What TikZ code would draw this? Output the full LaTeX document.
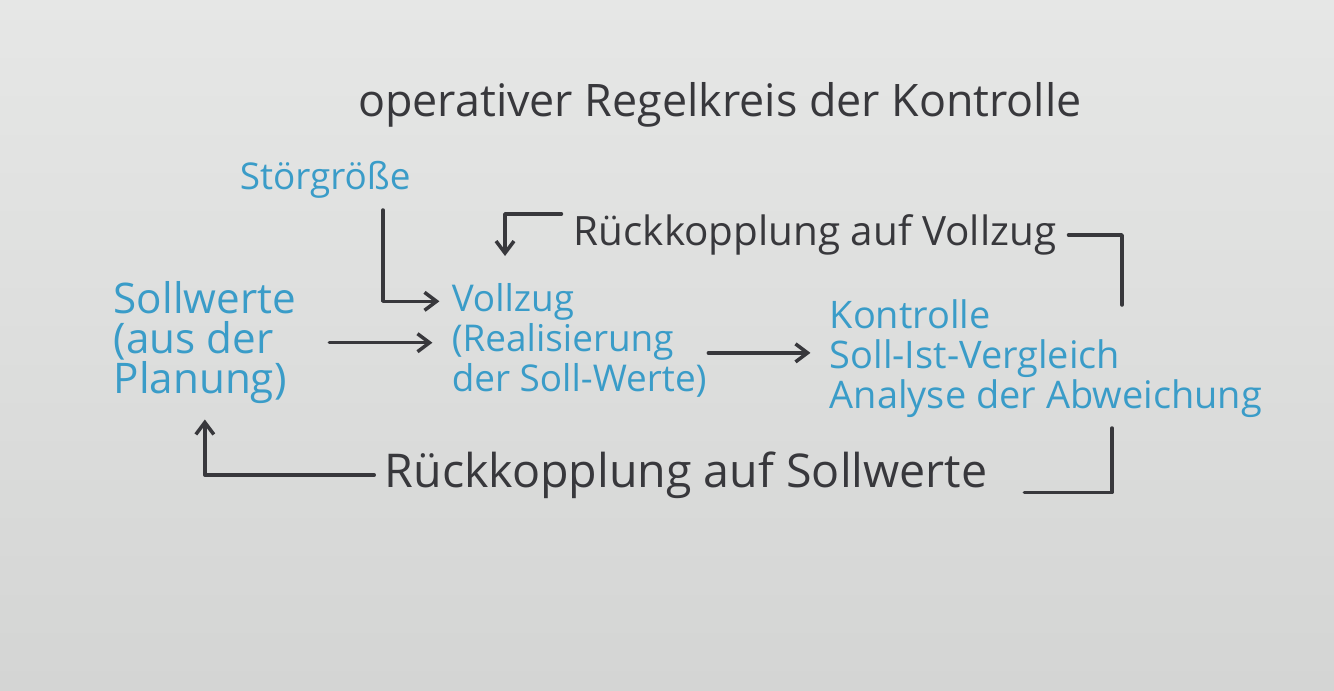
\documentclass[tikz,border=0pt]{standalone}
\usepackage{fontspec}
\setmainfont{Open Sans}
\usetikzlibrary{arrows.meta,positioning}
\definecolor{ink}{RGB}{56,56,60}
\definecolor{pen}{RGB}{58,156,200}
\definecolor{paperhi}{RGB}{230,231,230}
\definecolor{paperlo}{RGB}{212,213,212}

\begin{document}
\begin{tikzpicture}[x=0.02cm, y=-0.02cm, line width=2pt, line cap=round, line join=round,
  >={Straight Barb[length=2.4mm,width=3.6mm]},
  bluetext/.style={text=pen, inner sep=0pt, align=left, font=\fontsize{21}{22.7}\selectfont},
  darktext/.style={text=ink, inner sep=0pt, font=\fontsize{23}{26}\selectfont},
  link/.style={draw=ink, ->},
  plain/.style={draw=ink}]
  % paper
  \shade[top color=paperhi, bottom color=paperlo] (0,0) rectangle (1334,690);
  \useasboundingbox (0,0) rectangle (1334,690);

  % title
  \node[darktext, font=\fontsize{25.5}{28}\selectfont] (title) at (720,105) {operativer Regelkreis der Kontrolle};

  % blue blocks
  \node[bluetext, anchor=west] (stoer) at (238,180) {Störgröße};
  \node[bluetext, anchor=north west, font=\fontsize{24}{22.7}\selectfont] (soll) at (112,280) {Sollwerte\\(aus der\\Planung)};
  \node[bluetext, anchor=north west] (vollzug) at (450,282) {Vollzug\\(Realisierung\\der Soll-Werte)};
  \node[bluetext, anchor=north west, font=\fontsize{21.6}{22.7}\selectfont] (kontrolle) at (828,298) {Kontrolle\\Soll-Ist-Vergleich\\Analyse der Abweichung};

  % feedback labels
  \node[darktext, anchor=west] (rvollzug) at (572,235) {Rückkopplung auf Vollzug};
  \node[darktext, anchor=west, font=\fontsize{26.5}{28}\selectfont] (rsoll) at (383,475) {Rückkopplung auf Sollwerte};

  % free ends
  \coordinate (stoerfoot) at (383,210);
  \coordinate (vollzugtop) at (505,256);
  \coordinate (kontrolletop) at (1122,305);
  \coordinate (kontrollefoot) at (1112,428);

  % forward path
  \draw[link] (stoerfoot) |- ([xshift=-6pt,yshift=-11pt]vollzug.north west);
  \draw[link, shorten <=18pt, shorten >=10pt] (soll.east) -- (soll.east -| vollzug.west);
  \draw[link, shorten >=10pt] ([yshift=-7pt]vollzug.east) -- ([yshift=-7pt]vollzug.east -| kontrolle.west);

  % feedback loops
  \draw[plain, shorten >=6pt] (kontrolletop) |- (rvollzug.east);
  \draw[link, shorten <=6pt] ([yshift=12pt]rvollzug.west) -| (vollzugtop);
  \draw[plain, shorten >=4pt] (kontrollefoot) |- ([xshift=16pt,yshift=-10pt]rsoll.east);
  \draw[link, shorten <=5pt, shorten >=8pt] (rsoll.west) -| (soll.south);
\end{tikzpicture}
\end{document}
